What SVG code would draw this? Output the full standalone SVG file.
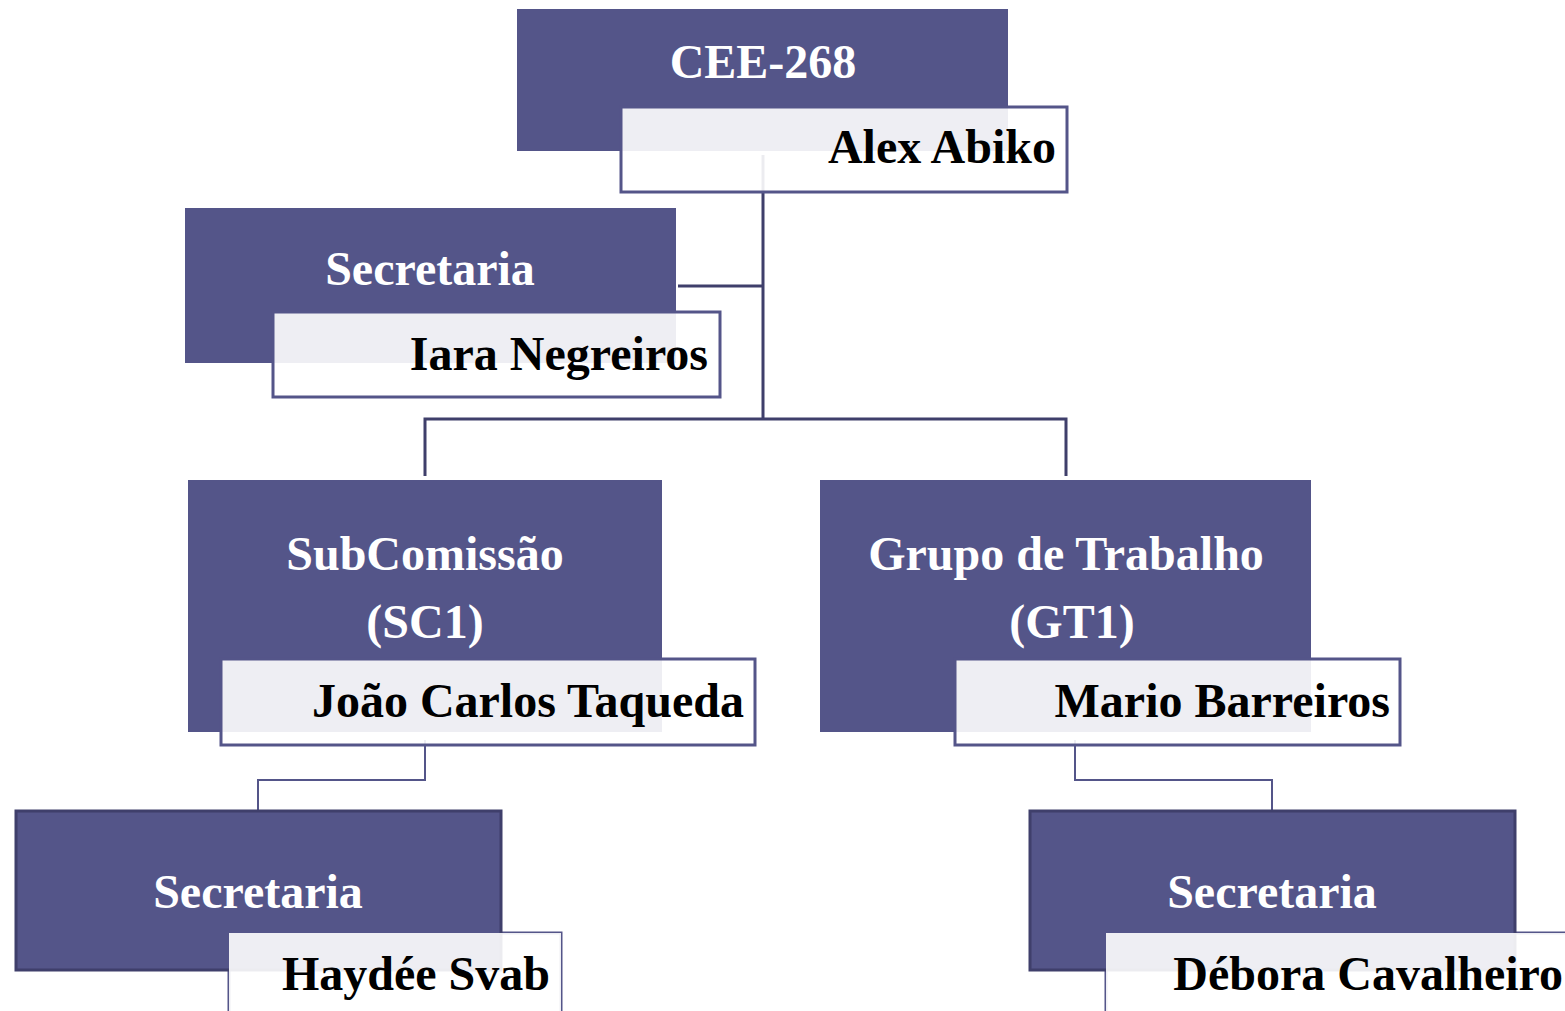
<svg xmlns="http://www.w3.org/2000/svg" width="1565" height="1011" viewBox="0 0 1565 1011">
<style>
.dark{fill:#545589;}
.darkb{fill:#545589;stroke:#3f3f6b;stroke-width:3;}
.box{fill:#ffffff;fill-opacity:0.9;stroke:#545589;stroke-width:3;}
.boxfill{fill:#ffffff;fill-opacity:0.9;}
.boxline{fill:none;stroke:#545589;stroke-width:3;}
.t{font-family:"Liberation Serif","Times New Roman",serif;font-weight:bold;font-size:48px;fill:#ffffff;text-anchor:middle;}
.n{font-family:"Liberation Serif","Times New Roman",serif;font-weight:bold;font-size:48px;fill:#000000;text-anchor:end;}
.thick{fill:none;stroke:#3f3f6b;stroke-width:3;}
.thin{fill:none;stroke:#545589;stroke-width:2;}
</style>
<rect width="1565" height="1011" fill="#ffffff"/>
<g id="connectors">
<line class="thick" x1="763" y1="155" x2="763" y2="419"/>
<line class="thick" x1="678" y1="286" x2="763" y2="286"/>
<polyline class="thick" points="425,476 425,419 1066,419 1066,476"/>
<polyline class="thin" points="425,740 425,780 258,780 258,811"/>
<polyline class="thin" points="1075,740 1075,780 1272,780 1272,811"/>
</g>
<g id="node-cee">
<rect class="dark" x="517" y="9" width="491" height="142"/>
<text class="t" x="763" y="78">CEE-268</text>
<rect class="box" x="621" y="107" width="446" height="85"/>
<text class="n" x="1056" y="163">Alex Abiko</text>
</g>
<g id="node-secretaria">
<rect class="dark" x="185" y="208" width="491" height="155"/>
<text class="t" x="430" y="285">Secretaria</text>
<rect class="box" x="273" y="312" width="447" height="85"/>
<text class="n" x="708" y="370">Iara Negreiros</text>
</g>
<g id="node-sc1">
<rect class="dark" x="188" y="480" width="474" height="252"/>
<text class="t" x="425" y="570">SubComissão</text>
<text class="t" x="425" y="638">(SC1)</text>
<rect class="box" x="221" y="659" width="534" height="86"/>
<text class="n" x="744" y="717">João Carlos Taqueda</text>
</g>
<g id="node-gt1">
<rect class="dark" x="820" y="480" width="491" height="252"/>
<text class="t" x="1066" y="570">Grupo de Trabalho</text>
<text class="t" x="1072" y="638">(GT1)</text>
<rect class="box" x="955" y="659" width="445" height="86"/>
<text class="n" x="1390" y="717">Mario Barreiros</text>
</g>
<g id="node-sec-sc1">
<rect class="boxline" x="229" y="933" width="332" height="90"/>
<rect class="darkb" x="16" y="811" width="485" height="159"/>
<text class="t" x="258" y="908">Secretaria</text>
<rect class="boxfill" x="229" y="933" width="332" height="90"/>
<text class="n" x="550" y="990">Haydée Svab</text>
</g>
<g id="node-sec-gt1">
<rect class="boxline" x="1106" y="933" width="470" height="90"/>
<rect class="darkb" x="1030" y="811" width="485" height="159"/>
<text class="t" x="1272" y="908">Secretaria</text>
<rect class="boxfill" x="1106" y="933" width="470" height="90"/>
<text class="n" x="1563" y="990">Débora Cavalheiro</text>
</g>
</svg>
